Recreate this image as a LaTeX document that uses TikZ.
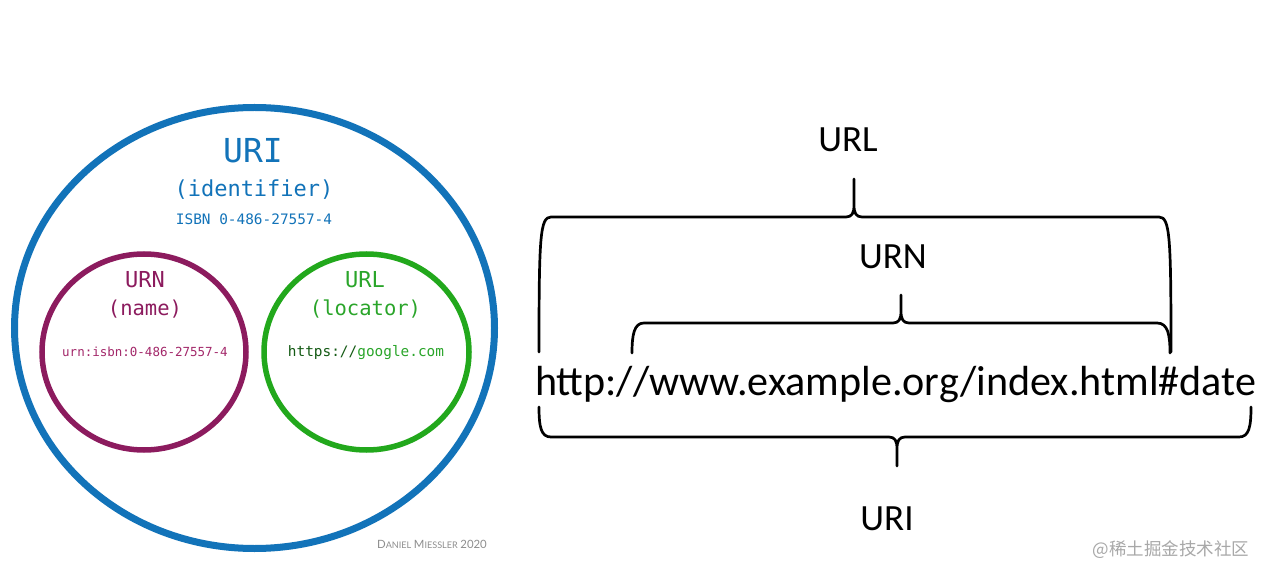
\documentclass[tikz,border=0pt]{standalone}
\usepackage{fontspec}
\setmainfont{Carlito}
\newfontfamily\monof{DejaVu Sans Mono}
\newfontfamily\calib{Carlito}
\newfontfamily\cjk{Noto Sans CJK SC}
\newfontfamily\sigf{Lato}
\definecolor{uriblue}{HTML}{1273B9}
\definecolor{urnpurple}{HTML}{8C1B5E}
\definecolor{urntext}{HTML}{A3286A}
\definecolor{urlgreen}{HTML}{22A81C}
\definecolor{urltext}{HTML}{2AA52A}
\definecolor{darkgreen}{HTML}{145A14}
\definecolor{siggray}{HTML}{8E8E8E}
\definecolor{wmgray}{HTML}{A8A8A8}
\newcommand{\fs}[1]{\fontsize{#1}{#1}\selectfont}
\begin{document}
\begin{tikzpicture}[x=1pt,y=-1pt,
  lbl/.style={inner sep=0pt,outer sep=0pt,anchor=base},
  bracepath/.style={draw=black,line width=2.7pt,line join=round,line cap=round}]
\useasboundingbox[fill=white] (0,0) rectangle (1269,577);
% ---- left Venn-like diagram ----
\draw[uriblue,line width=7pt] (254.5,328) ellipse [x radius=240,y radius=220.5];
\draw[urnpurple,line width=5.5pt] (144,352) ellipse [x radius=102,y radius=98];
\draw[urlgreen,line width=5.5pt] (366.5,352) ellipse [x radius=102.5,y radius=98];
\node[lbl,text=uriblue,font=\monof\fs{33}] (uri) at (253,163) {URI};
\node[lbl,text=uriblue,font=\monof\fs{22}] (ident) at (254,197) {(identifier)};
\node[lbl,text=uriblue,font=\monof\fs{14.4}] (isbn) at (254,225) {ISBN 0-486-27557-4};
\node[lbl,text=urnpurple,font=\monof\fs{22}] (urn) at (145,288) {URN};
\node[lbl,text=urnpurple,font=\monof\fs{20.5}] (name) at (145,316) {(name)};
\node[lbl,text=urntext,font=\monof\fs{12.5}] (urnex) at (145,356.5) {urn:isbn:0-486-27557-4};
\node[lbl,text=urltext,font=\monof\fs{22}] (url) at (365,288) {URL};
\node[lbl,text=urltext,font=\monof\fs{20.5}] (loc) at (365.5,316) {(locator)};
\node[lbl,font=\monof\fs{14.4}] (urlex) at (366,356.5) {\textcolor{darkgreen}{https://}\textcolor{urltext}{google.com}};
\node[lbl,text=siggray,font=\sigf] (sig) at (432,548) {{\fs{11.4}D}{\fs{9.1}ANIEL} {\fs{11.4}M}{\fs{9.1}IESSLER} {\fs{11.4}2020}};
% ---- right brace diagram ----
\node[lbl,font=\calib\fs{42.1},anchor=base west] (addr) at (535,395) {http://www.example.org/index.html\#date};
\node[lbl,font=\calib\fs{37}] (urltop) at (848,152) {URL};
\node[lbl,font=\calib\fs{37}] (urnmid) at (893,268.5) {URN};
\node[lbl,font=\calib\fs{37}] (uribot) at (887,530) {URI};
% URL brace
\draw[bracepath] (539,352) .. controls (539,237) and (540,217) .. (551,217) -- (846,217)
  .. controls (852,217) and (854,213) .. (854,205) -- (854,179) -- (854,205)
  .. controls (854,213) and (856,217) .. (862,217) -- (1159,217)
  .. controls (1170,217) and (1171,237) .. (1171,352);
% URN brace
\draw[bracepath] (632,353) .. controls (632,335) and (634,323) .. (644,323) -- (893,323)
  .. controls (899,323) and (901,319) .. (901,311) -- (901,295) -- (901,311)
  .. controls (901,319) and (903,323) .. (909,323) -- (1157,323)
  .. controls (1168,323) and (1170,335) .. (1170,353);
% URI brace
\draw[bracepath] (539,407) .. controls (539,427) and (541,437) .. (551,437) -- (889,437)
  .. controls (895,437) and (897,441) .. (897,449) -- (897,466) -- (897,449)
  .. controls (897,441) and (899,437) .. (905,437) -- (1239,437)
  .. controls (1249,437) and (1251,427) .. (1251,407);
% watermark
\node[lbl,text=wmgray,font=\cjk\fs{17.5}] (wm) at (1171,555) {@稀土掘金技术社区};
\end{tikzpicture}
\end{document}
